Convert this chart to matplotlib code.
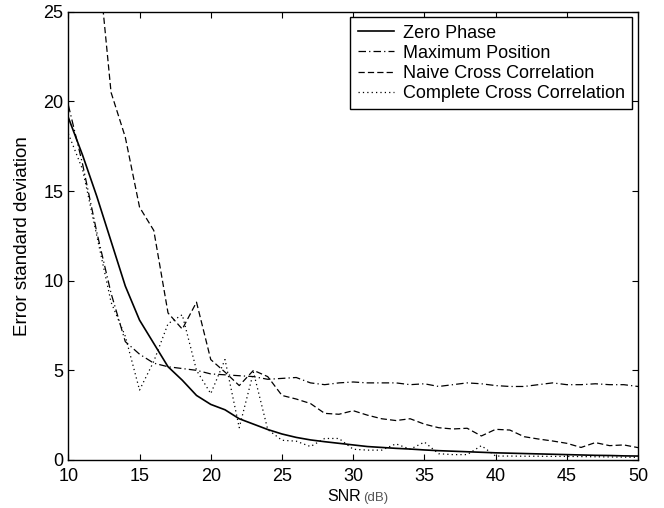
import matplotlib
matplotlib.use("Agg")
import matplotlib.pyplot as plt

plt.rcParams['font.family'] = ['Liberation Sans', 'DejaVu Sans']

snr = list(range(10, 51))

zero_phase = [19.1, 17.0, 14.7, 12.2, 9.7, 7.8, 6.5, 5.2, 4.45, 3.6,
              3.1, 2.8, 2.3, 2.0, 1.7, 1.45, 1.26, 1.12, 1.02, 0.93,
              0.84, 0.75, 0.70, 0.65, 0.61, 0.56, 0.52, 0.49, 0.46, 0.43,
              0.40, 0.38, 0.36, 0.34, 0.32, 0.30, 0.28, 0.26, 0.25, 0.23,
              0.22]

max_position = [19.8, 16.5, 12.7, 9.3, 6.6, 5.9, 5.4, 5.2, 5.1, 5.0,
                4.8, 4.75, 4.7, 4.65, 4.5, 4.55, 4.6, 4.3, 4.2, 4.3,
                4.35, 4.3, 4.3, 4.3, 4.2, 4.25, 4.1, 4.2, 4.3, 4.25,
                4.15, 4.1, 4.1, 4.2, 4.3, 4.2, 4.2, 4.25, 4.2, 4.2,
                4.1]

naive_xcorr = [45.0, 35.0, 28.7, 20.5, 18.0, 14.1, 12.8, 8.2, 7.3, 8.8,
               5.6, 4.9, 4.15, 5.0, 4.65, 3.6, 3.4, 3.15, 2.6, 2.55,
               2.75, 2.5, 2.3, 2.2, 2.3, 2.0, 1.8, 1.73, 1.77, 1.34,
               1.71, 1.67, 1.3, 1.17, 1.06, 0.93, 0.7, 0.97, 0.8, 0.84,
               0.69]

complete_xcorr = [18.2, 16.2, 12.5, 8.8, 6.9, 3.9, 5.5, 7.6, 8.1, 5.0,
                  3.7, 5.6, 1.8, 4.9, 1.7, 1.1, 1.05, 0.75, 1.2, 1.2,
                  0.6, 0.55, 0.55, 0.9, 0.6, 1.0, 0.35, 0.3, 0.3, 0.8,
                  0.22, 0.22, 0.21, 0.21, 0.2, 0.2, 0.19, 0.18, 0.17, 0.16,
                  0.15]

labels = ["Zero Phase", "Maximum Position", "Naive Cross Correlation",
          "Complete Cross Correlation"]

fig = plt.figure(figsize=(6.64, 5.08), dpi=100)
ax = fig.add_axes([0.1029, 0.0945, 0.858, 0.8825])

ax.plot(snr, zero_phase, color="black", lw=1.2, ls="-", label=labels[0])
ax.plot(snr, max_position, color="black", lw=0.9, dashes=(6, 2.5, 1, 2.5), label=labels[1])
ax.plot(snr, naive_xcorr, color="black", lw=0.9, dashes=(5, 2.5), label=labels[2])
ax.plot(snr, complete_xcorr, color="black", lw=0.9, dashes=(1, 2.5), label=labels[3])

ax.set_xlim(10, 50)
ax.set_ylim(0, 25)
ax.set_xticks(range(10, 51, 5))
ax.set_yticks(range(0, 26, 5))
ax.tick_params(direction="in", length=4, width=0.8, top=True, right=True,
               labelsize=13)
ax.tick_params(axis="x", pad=6)
ax.tick_params(axis="y", pad=3.5)
for s in ax.spines.values():
    s.set_linewidth(1.0)

ax.set_ylabel("Error standard deviation", fontsize=13.5, labelpad=9)
fig.text(0.5437, 0.014, "SNR", fontsize=11.5, ha="right", va="baseline")
fig.text(0.5467, 0.014, "(dB)", fontsize=9.5, color="#555555", ha="left", va="baseline")

leg = ax.legend(loc="upper right", bbox_to_anchor=(0.9895, 0.9875),
                borderaxespad=0, fancybox=False, framealpha=1,
                edgecolor="black", fontsize=13, handlelength=2.0,
                labelspacing=0.18, borderpad=0.4, handletextpad=0.5)
leg.get_frame().set_linewidth(1.0)

fig.savefig("out.png", dpi=100)
